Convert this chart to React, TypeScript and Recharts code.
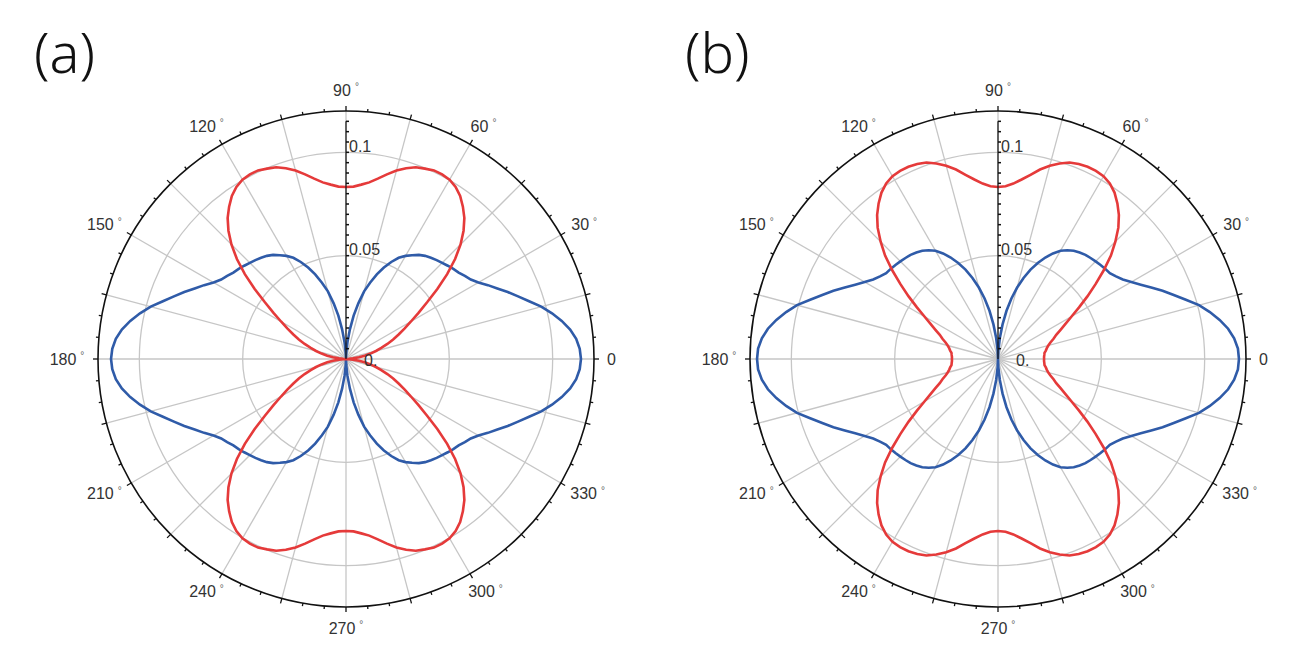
import React from "react";
import { RadarChart, Radar, PolarGrid, PolarAngleAxis, PolarRadiusAxis } from "recharts";

// radial values for 0..90 deg, every 2.5 deg
// (all four curves are mirror-symmetric about the 0-180 and 90-270 lines)
const ANGLE_STEP = 2.5;

const blueA = [
  0.1137, 0.1132, 0.1118, 0.1094, 0.106, 0.1021, 0.0978, 0.0929, 0.0886, 0.0847,
  0.0808, 0.0774, 0.074, 0.0716, 0.0702, 0.0687, 0.0678, 0.0668, 0.0658, 0.0649,
  0.0639, 0.0629, 0.0615, 0.0595, 0.0576, 0.0552, 0.0518, 0.0479, 0.0436, 0.0387,
  0.0339, 0.0276, 0.0213, 0.0145, 0.0082, 0.0029, 0,
];
const redA = [
  0, 0.0015, 0.0034, 0.0063, 0.0092, 0.0121, 0.015, 0.0179, 0.0213, 0.0247,
  0.0281, 0.0319, 0.0363, 0.0416, 0.0479, 0.0557, 0.0639, 0.0716, 0.0784, 0.0842,
  0.0891, 0.0929, 0.0963, 0.0987, 0.1002, 0.1007, 0.1007, 0.0997, 0.0987, 0.0968,
  0.0944, 0.0915, 0.0886, 0.0862, 0.0847, 0.0835, 0.0832,
];
const blueB = [
  0.1166, 0.1162, 0.1147, 0.1123, 0.1089, 0.105, 0.1007, 0.0953, 0.0905, 0.0862,
  0.0818, 0.0779, 0.0745, 0.0716, 0.0697, 0.0682, 0.0678, 0.0673, 0.0668, 0.0663,
  0.0658, 0.0649, 0.0639, 0.0624, 0.0605, 0.0576, 0.0542, 0.0503, 0.046, 0.0411,
  0.0358, 0.03, 0.0237, 0.0169, 0.0102, 0.0039, 0,
];
const redB = [
  0.0223, 0.0223, 0.0225, 0.0227, 0.0235, 0.0242, 0.0252, 0.0266, 0.0286, 0.0305,
  0.0334, 0.0368, 0.0411, 0.0465, 0.0528, 0.0595, 0.0668, 0.0741, 0.0803, 0.0862,
  0.091, 0.0949, 0.0983, 0.1007, 0.1021, 0.1026, 0.1026, 0.1021, 0.1012, 0.0992,
  0.0968, 0.0939, 0.0905, 0.0876, 0.0852, 0.0837, 0.0832,
];

const R_MAX = 0.12;
const radiusLabels: Record<number, string> = { 0: "0.", 50: "0.05", 100: "0.1" };
const radiusTicks = Array.from({ length: 24 }, (_, i) => (i * 5) / 1000);
const angleTicks = Array.from({ length: 72 }, (_, i) => i * 5);
const gridAngles = Array.from({ length: 24 }, (_, i) => i * 15);
const gridCircles = [0.05, 0.1];

const CX = 346;
const CY = 359;
const OUTER = 248;
const FONT = "'Liberation Sans', Arial, sans-serif";

function buildRows(blue: number[], red: number[]) {
  const q = 90 / ANGLE_STEP;
  const rows = [];
  for (let i = 0; i < 4 * q; i++) {
    const k = i <= q ? i : i <= 2 * q ? 2 * q - i : i <= 3 * q ? i - 2 * q : 4 * q - i;
    rows.push({ angle: i * ANGLE_STEP, blue: blue[k], red: red[k] });
  }
  return rows;
}

const AngleTick = (props: any) => {
  const deg = props.payload.value;
  const a = (deg * Math.PI) / 180;
  const c = Math.cos(a);
  const s = Math.sin(a);
  const len = deg % 15 === 0 ? 5 : 3;
  const hw = deg === 0 ? 4.5 : deg < 100 ? 14 : 18;
  const lx = CX + (OUTER + 13) * c + hw * c;
  const ly = CY - (OUTER + 13) * s - 8 * s;
  return (
    <g>
      <line
        x1={CX + OUTER * c}
        y1={CY - OUTER * s}
        x2={CX + (OUTER + len) * c}
        y2={CY - (OUTER + len) * s}
        stroke="#111"
        strokeWidth={1.3}
      />
      {deg % 30 === 0 && (
        <text x={lx} y={ly} textAnchor="middle" dominantBaseline="central" fontSize={16} fill="#333" fontFamily={FONT}>
          {deg === 0 ? "0" : deg}
          {deg !== 0 && (
            <tspan dx={4} dy={-4} fontSize={10} fill="#666">
              °
            </tspan>
          )}
        </text>
      )}
    </g>
  );
};

const RadiusTick = (props: any) => {
  const { x, y, payload } = props;
  const label = radiusLabels[Math.round(payload.value * 1000)];
  const isZero = payload.value === 0;
  return (
    <g>
      {!isZero && <line x1={x} y1={y} x2={x + 3} y2={y} stroke="#111" strokeWidth={1.5} />}
      {label && (
        <text
          x={isZero ? x + 18 : x + 3}
          y={isZero ? y + 1 : y - 6}
          dominantBaseline="central"
          fontSize={16}
          fill="#333"
          fontFamily={FONT}
        >
          {label}
        </text>
      )}
    </g>
  );
};

function PolarPanel({ blue, red }: { blue: number[]; red: number[] }) {
  const rows = buildRows(blue, red);
  return (
    <RadarChart
      width={645}
      height={647}
      data={rows}
      cx={CX}
      cy={CY}
      outerRadius={OUTER}
      startAngle={0}
      endAngle={360}
      margin={{ top: 0, right: 0, bottom: 0, left: 0 }}
    >
      <PolarGrid
        gridType="circle"
        polarAngles={gridAngles}
        polarRadius={gridCircles.map((v) => (v / R_MAX) * OUTER)}
        stroke="#c6c6c6"
        strokeWidth={1.3}
      />
      <PolarAngleAxis
        dataKey="angle"
        type="number"
        domain={[0, 360]}
        ticks={angleTicks}
        axisLineType="circle"
        axisLine={{ stroke: "#111", strokeWidth: 1.6 }}
        tickLine={false}
        tick={<AngleTick />}
      />
      <PolarRadiusAxis
        angle={90}
        type="number"
        domain={[0, R_MAX]}
        ticks={radiusTicks}
        axisLine={{ stroke: "#111", strokeWidth: 1.2 }}
        tickLine={false}
        tick={<RadiusTick />}
      />
      <Radar dataKey="blue" stroke="#2f5ba8" strokeWidth={2.6} fill="none" fillOpacity={0} dot={false} isAnimationActive={false} />
      <Radar dataKey="red" stroke="#e53a3a" strokeWidth={2.6} fill="none" fillOpacity={0} dot={false} isAnimationActive={false} />
    </RadarChart>
  );
}

export default function App() {
  const letter: React.CSSProperties = {
    position: "absolute",
    top: 16,
    fontSize: 56,
    lineHeight: "70px",
    fontFamily: "'Noto Sans', sans-serif",
    fontWeight: 300,
    color: "#111",
  };
  return (
    <div style={{ position: "absolute", left: 0, top: 0, width: 1291, height: 647, background: "#fff", overflow: "hidden" }}>
      <div style={{ position: "absolute", left: 0, top: 0 }}>
        <PolarPanel blue={blueA} red={redA} />
      </div>
      <div style={{ position: "absolute", left: 652, top: 0 }}>
        <PolarPanel blue={blueB} red={redB} />
      </div>
      <div style={{ ...letter, left: 34 }}>(a)</div>
      <div style={{ ...letter, left: 685 }}>(b)</div>
    </div>
  );
}
